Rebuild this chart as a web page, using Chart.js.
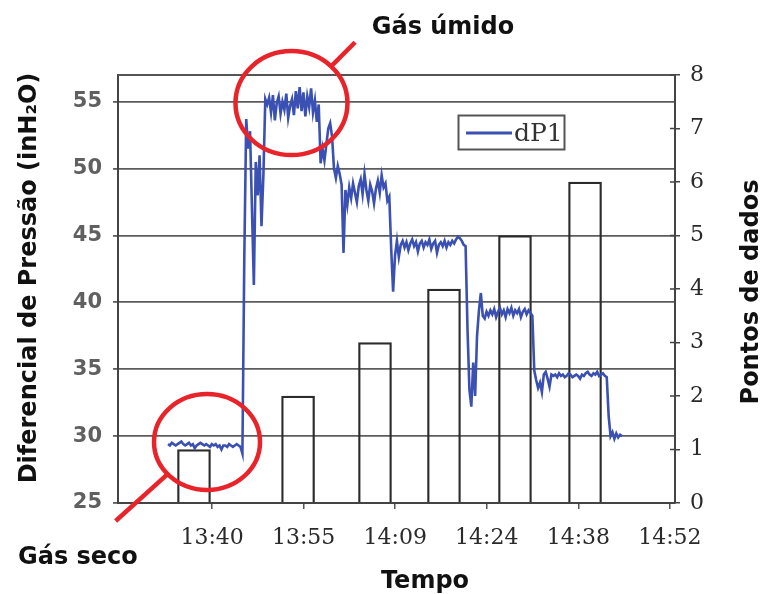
<!DOCTYPE html>
<html>
<head>
<meta charset="utf-8">
<script src="https://cdn.jsdelivr.net/npm/chart.js@4.4.0/dist/chart.umd.min.js"></script>
<style>
  html, body { margin: 0; padding: 0; background: #ffffff; }
  #wrap { width: 764px; height: 594px; }
</style>
</head>
<body>
<div id="wrap"><canvas id="chart" width="764" height="594"></canvas></div>
<script>
// 'HH:MM:SS' -> minutes after midnight
const toMin = s => { const [h, m, sec = '0'] = s.split(':'); return (+h) * 60 + (+m) + (+sec) / 60; };

// ---- axis ranges and ticks ----
const axisStart = '13:26:00';
const axisEnd = '14:53:36';
const xTickTimes = ['13:40:48', '13:55:12', '14:09:36', '14:24:00', '14:38:24', '14:52:48'];
const xTickLabels = ['13:40', '13:55', '14:09', '14:24', '14:38', '14:52'];
const leftTicks = [25, 30, 35, 40, 45, 50, 55];
const rightTicks = [0, 1, 2, 3, 4, 5, 6, 7, 8];

// ---- dP1 record (inH2O), one sample every 18 s ----
const sampleStart = '13:33:52';
const sampleStepSec = 18;
const dP1 = [
  29.4, 29.3, 29.5, 29.4, 29.3, 29.4, 29.5, 29.6, 29.4, 29.3,
  29.4, 29.5, 29.3, 29.4, 29.1, 29.3, 29.4, 29.5, 29.4, 29.3,
  29.4, 29.3, 29.2, 29.4, 29.3, 29.4, 29.2, 29.3, 29.0, 29.3,
  29.3, 29.2, 29.4, 29.3, 29.2, 29.3, 29.4, 29.3, 29.2, 28.7,
  43.5, 53.7, 51.5, 52.8, 47.0, 41.3, 50.5, 48.0, 51.0, 45.7,
  49.5, 55.2, 54.8, 55.3, 54.2, 55.5, 53.6, 54.9, 55.4, 54.1,
  55.0, 54.4, 55.6, 53.8, 54.7, 55.2, 54.0, 55.8, 54.5, 56.1,
  54.3, 55.7, 53.9, 55.4, 54.6, 56.0, 54.2, 55.1, 53.5, 54.8,
  50.4, 51.5, 50.6, 51.8, 53.0, 53.4, 52.4, 50.0, 49.3, 50.2,
  49.6, 48.8, 43.7, 48.4, 47.3, 48.6, 47.8, 48.9, 48.2, 47.5,
  48.7, 49.2, 48.1, 49.6, 48.4, 47.6, 48.8, 48.3, 47.4, 48.5,
  49.1, 48.2, 49.5, 48.6, 48.9, 47.6, 47.9, 44.0, 40.8, 43.5,
  44.6, 43.4, 44.3, 44.6, 44.1, 44.5, 43.9, 44.4, 44.7, 44.2,
  44.5, 43.8, 44.4, 44.6, 44.1, 44.5, 44.3, 44.7, 44.0, 44.4,
  44.6, 43.7, 44.3, 44.5, 44.2, 44.6, 44.1, 44.5, 44.3, 44.6,
  44.4, 44.7, 44.9, 44.8, 44.6, 44.3, 44.2, 38.0, 33.5, 32.2,
  35.5, 33.0, 37.5, 39.4, 40.7, 39.0, 38.8, 39.3, 39.0, 39.4,
  39.1, 39.5, 38.9, 39.3, 39.6, 39.1, 39.4, 38.9, 39.5, 39.2,
  39.6, 39.0, 39.4, 39.2, 39.5, 38.9, 39.3, 39.5, 39.1, 39.4,
  39.2, 39.0, 34.9, 34.2, 33.6, 34.0, 33.3, 34.6, 34.8, 34.3,
  33.7, 34.6, 34.5, 34.6, 34.4, 34.7, 34.5, 34.6, 34.4, 34.5,
  34.7, 34.6, 34.4, 34.5, 34.6, 34.5, 34.3, 34.6, 34.5, 34.7,
  34.8, 34.6, 34.5, 34.7, 34.6, 34.8, 34.5, 34.6, 34.7, 34.5,
  34.4, 31.5, 30.0, 30.3, 29.8, 30.2, 29.9, 30.1, 30.0
];

// ---- data points collected (right axis) ----
const pointTimes = ['13:37:57', '13:54:19', '14:06:25', '14:17:16', '14:28:26', '14:39:27'];
const pointCounts = [1, 2, 3, 4, 5, 6];

// ---- texts ----
const leftTitle = 'Diferencial de Pressão (inH\u2082O)';
const rightTitle = 'Pontos de dados';
const xTitle = 'Tempo';
const wetLabel = 'Gás úmido';
const dryLabel = 'Gás seco';

// highlighted regions (time, dP1)
const wetFocus = ['13:53:17', 54.9];
const dryFocus = ['13:40:00', 29.56];

const t0 = toMin(sampleStart);
const lineData = dP1.map((v, i) => ({ x: t0 + i * sampleStepSec / 60, y: v }));
const barData = pointTimes.map((t, i) => ({ x: toMin(t), y: pointCounts[i] }));

const LINE_COLOR = '#3a51b3';
const RED = '#e8232a';
const SANS_BOLD = 'bold 24px "DejaVu Sans"';

const decorations = {
  id: 'decorations',
  beforeDatasetsDraw(chart) {
    const { ctx, chartArea: a } = chart;
    const r = chart.scales.y1;
    ctx.save();
    ctx.strokeStyle = '#555555';
    ctx.lineWidth = 2;
    ctx.beginPath();
    ctx.moveTo(a.left, a.top);
    ctx.lineTo(a.right, a.top);
    ctx.stroke();
    // inner half of the right-axis tick marks
    ctx.strokeStyle = '#444444';
    ctx.lineWidth = 1.5;
    ctx.beginPath();
    rightTicks.forEach(v => {
      const y = r.getPixelForValue(v);
      ctx.moveTo(a.right - 5, y);
      ctx.lineTo(a.right, y);
    });
    ctx.stroke();
    ctx.restore();
  },
  afterDraw(chart) {
    const { ctx } = chart;
    const xs = chart.scales.x, ys = chart.scales.y;
    ctx.save();

    // legend
    ctx.strokeStyle = '#555555';
    ctx.lineWidth = 2;
    ctx.strokeRect(458.5, 115.5, 106, 34);
    ctx.strokeStyle = LINE_COLOR;
    ctx.lineWidth = 3;
    ctx.beginPath();
    ctx.moveTo(466, 133);
    ctx.lineTo(512, 133);
    ctx.stroke();
    ctx.fillStyle = '#333333';
    ctx.font = '25px "DejaVu Serif"';
    ctx.textAlign = 'left';
    ctx.textBaseline = 'middle';
    ctx.fillText(chart.data.datasets[0].label, 514, 134);

    // red callouts
    const callout = (focus, rx, ry, angleDeg, len) => {
      const cx = xs.getPixelForValue(toMin(focus[0]));
      const cy = ys.getPixelForValue(focus[1]);
      ctx.strokeStyle = RED;
      ctx.lineWidth = 4.5;
      ctx.beginPath();
      ctx.ellipse(cx, cy, rx, ry, 0, 0, Math.PI * 2);
      ctx.stroke();
      const a = angleDeg * Math.PI / 180;
      const sx = cx + rx * Math.cos(a), sy = cy + ry * Math.sin(a);
      ctx.beginPath();
      ctx.moveTo(sx, sy);
      ctx.lineTo(sx + len * Math.cos(a), sy + len * Math.sin(a));
      ctx.stroke();
    };
    callout(wetFocus, 56, 52, -45, 34);
    callout(dryFocus, 53, 48, 138, 70);

    // titles and labels
    ctx.fillStyle = '#111111';
    ctx.font = SANS_BOLD;
    ctx.textAlign = 'center';
    ctx.textBaseline = 'alphabetic';
    ctx.fillText(wetLabel, 443, 34);
    ctx.fillText(xTitle, 425, 588);
    ctx.textAlign = 'left';
    ctx.fillText(dryLabel, 18, 564);

    ctx.textAlign = 'center';
    ctx.textBaseline = 'middle';
    ctx.save();
    ctx.translate(30, 278);
    ctx.rotate(-Math.PI / 2);
    ctx.fillText(leftTitle, 0, 0);
    ctx.restore();
    ctx.save();
    ctx.translate(752, 292);
    ctx.rotate(-Math.PI / 2);
    ctx.fillText(rightTitle, 0, 0);
    ctx.restore();

    ctx.restore();
  }
};

new Chart(document.getElementById('chart'), {
  type: 'bar',
  data: {
    datasets: [
      {
        type: 'line',
        label: 'dP1',
        data: lineData,
        yAxisID: 'y',
        borderColor: LINE_COLOR,
        borderWidth: 2.6,
        pointRadius: 0,
        tension: 0,
        order: 0
      },
      {
        type: 'bar',
        label: 'Pontos de dados',
        data: barData,
        yAxisID: 'y1',
        backgroundColor: 'rgba(255,255,255,0)',
        borderColor: '#2b2b2b',
        borderWidth: 1.6,
        barThickness: 33,
        order: 1
      }
    ]
  },
  options: {
    responsive: false,
    devicePixelRatio: 1,
    animation: false,
    layout: { padding: { top: 75, left: 0, right: 0, bottom: 0 } },
    plugins: { legend: { display: false }, tooltip: { enabled: false } },
    scales: {
      x: {
        type: 'linear',
        offset: false,
        min: toMin(axisStart),
        max: toMin(axisEnd),
        afterBuildTicks: s => { s.ticks = xTickTimes.map(t => ({ value: toMin(t) })); },
        afterFit: s => { s.height = 91; },
        ticks: {
          autoSkip: false,
          maxRotation: 0,
          padding: 16,
          color: '#2a2a2a',
          font: { family: 'DejaVu Serif', size: 22 },
          callback: (v, i) => xTickLabels[i]
        },
        grid: { offset: false, drawOnChartArea: false, drawTicks: true, tickLength: 6, color: '#555555', lineWidth: 1.5 },
        border: { color: '#444444', width: 2 }
      },
      y: {
        position: 'left',
        min: 25,
        max: 57,
        afterBuildTicks: s => { s.ticks = leftTicks.map(v => ({ value: v })); },
        afterFit: s => { s.width = 118; },
        ticks: {
          padding: 11,
          color: '#606060',
          font: { family: 'DejaVu Sans', size: 21, weight: 'bold' }
        },
        grid: { color: '#5c5c5c', lineWidth: 1.8, tickLength: 5 },
        border: { color: '#444444', width: 2 }
      },
      y1: {
        position: 'right',
        min: 0,
        max: 8,
        afterBuildTicks: s => { s.ticks = rightTicks.map(v => ({ value: v })); },
        afterFit: s => { s.width = 89; },
        ticks: {
          padding: 10,
          color: '#2a2a2a',
          font: { family: 'DejaVu Serif', size: 22 }
        },
        grid: { drawOnChartArea: false, tickLength: 5, color: '#444444', lineWidth: 1.5 },
        border: { color: '#444444', width: 2 }
      }
    }
  },
  plugins: [decorations]
});
</script>
</body>
</html>
